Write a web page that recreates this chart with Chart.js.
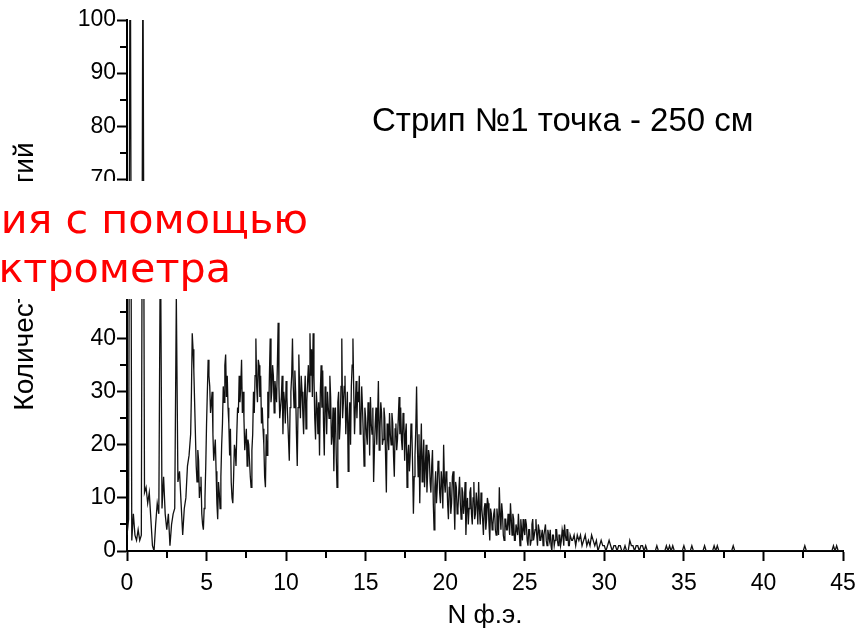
<!DOCTYPE html>
<html>
<head>
<meta charset="utf-8">
<script src="https://cdn.jsdelivr.net/npm/chart.js@4.4.0/dist/chart.umd.min.js"></script>
<style>
  html, body { margin: 0; padding: 0; background: #fff; }
</style>
</head>
<body>
<canvas id="Chart" width="856" height="632"></canvas>
<script>
// ширина канала спектра, N ф.э.
const binWidth = 0.1;

// отсчёты по каналам 0.0 ... 32.9 (по 10 каналов в строке)
const counts = [
  3, 6, 130, 2, 7, 3, 2, 4, 2, 3,
  115, 11, 12, 9, 11, 6, 1, 0, 5, 9,
  7, 62, 8, 14, 7, 4, 7, 1, 5, 7,
  8, 48, 13, 15, 9, 3, 8, 10, 16, 18,
  22, 41, 34, 22, 13, 17, 12, 7, 4, 10,
  24, 36, 31, 28, 22, 19, 15, 6, 11, 14,
  24, 28, 37, 33, 24, 23, 10, 14, 19, 22,
  26, 28, 36, 30, 19, 23, 21, 17, 12, 22,
  26, 40, 28, 35, 33, 27, 20, 12, 18, 25,
  40, 30, 33, 32, 28, 43, 25, 29, 22, 28,
  32, 25, 17, 30, 40, 27, 30, 16, 37, 25,
  30, 22, 33, 28, 35, 41, 38, 41, 25, 30,
  22, 18, 35, 34, 18, 28, 30, 25, 29, 22,
  15, 27, 12, 30, 24, 40, 28, 33, 26, 15,
  28, 31, 40, 22, 32, 30, 33, 24, 27, 16,
  25, 20, 27, 29, 22, 13, 24, 20, 32, 23,
  26, 21, 25, 11, 22, 26, 20, 24, 14, 24,
  21, 29, 27, 19, 25, 22, 12, 20, 18, 23,
  7, 18, 31, 14, 9, 24, 17, 12, 20, 15,
  18, 11, 19, 4, 15, 12, 16, 9, 13, 20,
  11, 14, 6, 13, 9, 15, 4, 12, 8, 14,
  6, 11, 9, 3, 10, 8, 12, 5, 13, 7,
  9, 13, 5, 8, 3, 9, 6, 9, 2, 7,
  5, 8, 3, 6, 12, 4, 7, 2, 6, 4,
  5, 9, 3, 6, 2, 5, 7, 1, 4, 6,
  3, 5, 1, 4, 2, 6, 3, 6, 1, 4,
  2, 4, 3, 5, 1, 3, 4, 0, 3, 2,
  4, 1, 3, 2, 3, 5, 2, 4, 1, 3,
  2, 3, 1, 3, 2, 3, 1, 2, 3, 1,
  2, 1, 3, 2, 1, 2, 0, 1, 2, 1,
  1, 0, 1, 2, 1, 0, 1, 1, 0, 1,
  1, 0, 0, 1, 0, 0, 2, 1, 1, 0,
  1, 1, 0, 1, 1, 0, 1, 0, 0, 0
];

// промежуточные каналы x.x5 в плотной части спектра, 4.05 ... 27.95
const halfStart = 4.0;
const halfCounts = [
  30, 38, 28, 16, 19, 10, 14, 5, 8, 16,
  30, 33, 26, 30, 17, 21, 9, 13, 8, 20,
  31, 35, 29, 27, 18, 13, 9, 20, 16, 27,
  33, 31, 26, 25, 21, 16, 20, 14, 19, 30,
  33, 31, 36, 29, 24, 23, 14, 22, 30, 33,
  28, 35, 26, 30, 35, 31, 27, 33, 30, 24,
  29, 21, 27, 33, 31, 34, 22, 27, 30, 33,
  26, 29, 23, 32, 30, 33, 29, 33, 21, 27,
  28, 30, 27, 24, 31, 22, 27, 33, 20, 27,
  24, 18, 28, 21, 31, 25, 31, 22, 30, 24,
  20, 35, 30, 27, 25, 28, 22, 31, 22, 27,
  22, 28, 18, 24, 27, 19, 27, 25, 19, 28,
  20, 27, 18, 24, 19, 22, 26, 18, 23, 19,
  25, 22, 21, 26, 17, 24, 18, 15, 24, 16,
  14, 23, 20, 22, 18, 13, 21, 16, 11, 19,
  13, 16, 9, 12, 9, 17, 11, 15, 8, 13,
  15, 9, 12, 7, 14, 10, 13, 7, 11, 9,
  12, 7, 13, 8, 5, 11, 7, 10, 6, 11,
  5, 8, 11, 6, 8, 4, 10, 5, 8, 4,
  7, 4, 8, 3, 7, 9, 3, 6, 4, 7,
  3, 6, 7, 2, 5, 3, 4, 6, 2, 4,
  6, 2, 4, 1, 5, 2, 4, 3, 5, 2,
  3, 1, 4, 2, 4, 2, 1, 3, 1, 4,
  2, 3, 1, 4, 1, 3, 4, 1, 3, 2
];

// после 33 ф.э. - одиночные события
const tailBins = [33.3, 33.9, 34.1, 34.3, 35.0, 35.5, 36.3, 36.9, 37.1, 38.1, 42.6, 44.4, 44.6];

const xMax = 45;
const yMax = 100;
const xStep = 5;
const yStep = 10;

const chartTitle = 'Стрип №1 точка - 250 см';
const xTitle = 'N ф.э.';
const yTitle = 'Количество событий';
const slideLine1 = 'Регистрация с помощью';
const slideLine2 = 'спектрометра';

let points = [];
const nBins = Math.round(xMax / binWidth);
const halfOffset = Math.round(halfStart / binWidth);
for (let i = 0; i <= nBins; i++) {
  const x = +(i * binWidth).toFixed(1);
  let y = i < counts.length ? counts[i] : 0;
  if (tailBins.includes(x)) y = 1;
  points.push({ x: x, y: y });
  const j = i - halfOffset;
  if (j >= 0 && j < halfCounts.length) {
    points.push({ x: x + binWidth / 2, y: halfCounts[j] });
  }
}

// мелкие засечки между основными
const minorTicks = {
  id: 'minorTicks',
  afterDraw(chart) {
    const ctx = chart.ctx;
    const xs = chart.scales.x;
    const ys = chart.scales.y;
    ctx.save();
    ctx.strokeStyle = '#000';
    ctx.lineWidth = 2;
    ctx.beginPath();
    for (let i = 0; i < xs.ticks.length - 1; i++) {
      const px = Math.round(xs.getPixelForValue((xs.ticks[i].value + xs.ticks[i + 1].value) / 2));
      ctx.moveTo(px, xs.top);
      ctx.lineTo(px, xs.top + 7);
    }
    for (let i = 0; i < ys.ticks.length - 1; i++) {
      const py = Math.round(ys.getPixelForValue((ys.ticks[i].value + ys.ticks[i + 1].value) / 2));
      ctx.moveTo(ys.right, py);
      ctx.lineTo(ys.right - 7, py);
    }
    ctx.stroke();
    ctx.restore();
  }
};

// подписи и кусок текста слайда поверх графика
const overlay = {
  id: 'overlay',
  afterDraw(chart) {
    const ctx = chart.ctx;
    const area = chart.chartArea;
    ctx.save();
    ctx.fillStyle = '#000';
    ctx.font = '33px "Liberation Sans", Arial, sans-serif';
    ctx.textAlign = 'left';
    ctx.textBaseline = 'alphabetic';
    ctx.fillText(chartTitle, 372, 131);

    // подпись оси Y
    ctx.save();
    ctx.translate(25, (area.top + area.bottom) / 2 - 9);
    ctx.rotate(-Math.PI / 2);
    ctx.textAlign = 'center';
    ctx.textBaseline = 'middle';
    ctx.font = '28px "Liberation Sans", Arial, sans-serif';
    ctx.fillText(yTitle, 0, 0);
    ctx.restore();

    ctx.fillStyle = '#fff';
    ctx.fillRect(0, 181, 330, 118);

    ctx.font = '100px "DejaVu Sans"';
    const w = ctx.measureText('ия с помощью').width;
    const size = 100 * 307 / w;
    ctx.font = size.toFixed(1) + 'px "DejaVu Sans"';
    ctx.fillStyle = '#ff0000';
    ctx.textAlign = 'right';
    ctx.fillText(slideLine1, 308, 233);
    ctx.fillText(slideLine2, 231, 282);
    ctx.restore();
  }
};

let lineCtx = document.getElementById('Chart');
let lineConfig = {
  type: 'line',
  data: {
    datasets: [{
      data: points,
      borderColor: '#111',
      borderWidth: 1.3,
      pointRadius: 0,
      tension: 0,
      fill: false
    }]
  },
  options: {
    responsive: false,
    animation: false,
    layout: { padding: { top: 20, right: 13, left: 0, bottom: 0 } },
    plugins: { legend: { display: false }, tooltip: { enabled: false } },
    scales: {
      x: {
        type: 'linear',
        min: 0,
        max: xMax,
        afterFit(scale) {
          scale.height = 81;
          scale.paddingLeft = 0;
          scale.paddingRight = 0;
        },
        border: { display: true, color: '#000', width: 2 },
        grid: { drawOnChartArea: false, drawTicks: true, tickLength: 10, tickColor: '#000', tickWidth: 2 },
        ticks: { stepSize: xStep, color: '#000', padding: 9, maxRotation: 0,
                 font: { family: '"Liberation Sans", Arial, sans-serif', size: 23 } },
        title: { display: true, text: xTitle, color: '#000', padding: { top: 0, bottom: 1 },
                 font: { family: '"Liberation Sans", Arial, sans-serif', size: 26 } }
      },
      y: {
        min: 0,
        max: yMax,
        afterFit(scale) { scale.width = 127; },
        border: { display: true, color: '#000', width: 2 },
        grid: { drawOnChartArea: false, drawTicks: true, tickLength: 10, tickColor: '#000', tickWidth: 2 },
        ticks: { stepSize: yStep, color: '#000', padding: 1,
                 font: { family: '"Liberation Sans", Arial, sans-serif', size: 23 } },
        title: { display: false }
      }
    }
  },
  plugins: [minorTicks, overlay]
};
let lineChart = new Chart(lineCtx, lineConfig);
</script>
</body>
</html>
